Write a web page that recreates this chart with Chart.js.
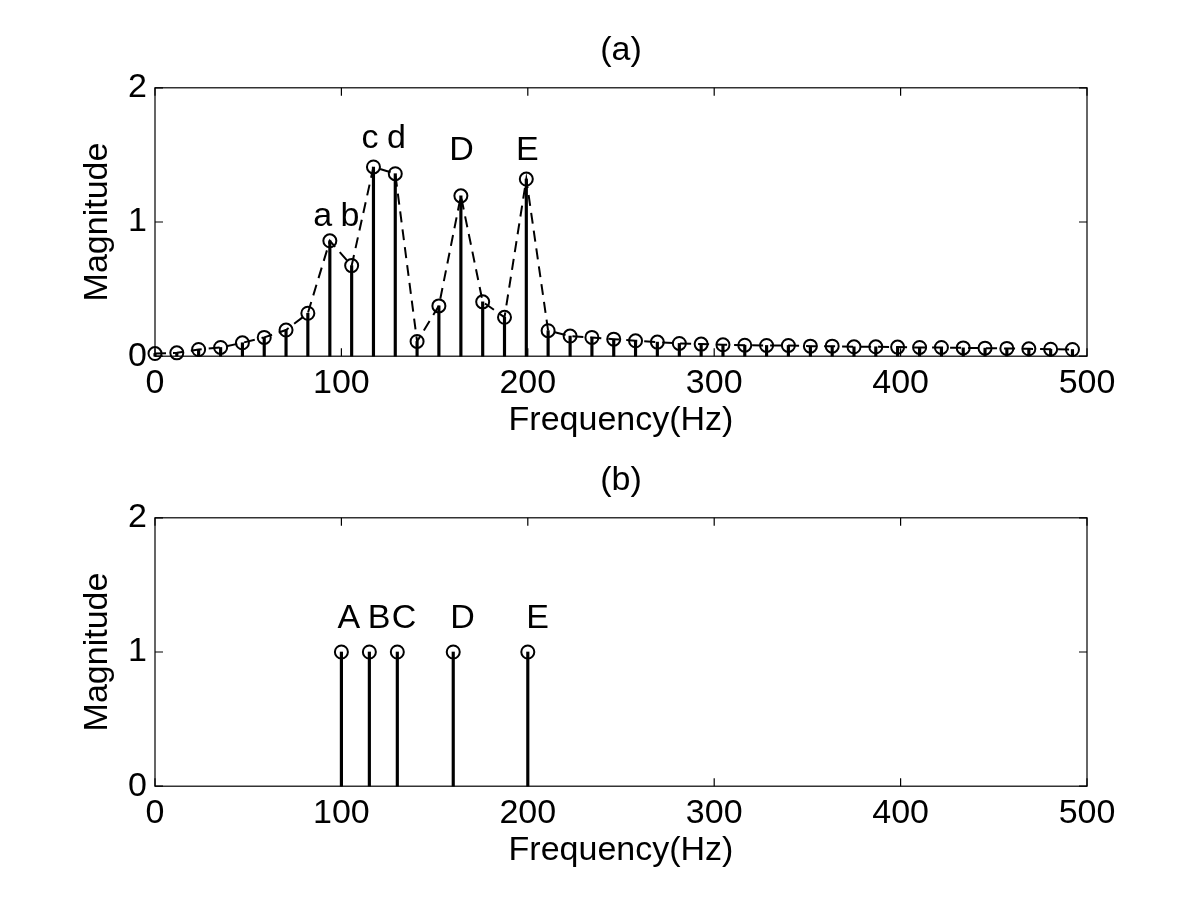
<!DOCTYPE html>
<html>
<head>
<meta charset="utf-8">
<script src="https://cdn.jsdelivr.net/npm/chart.js@4.4.1/dist/chart.umd.min.js"></script>
<style>
  body { margin: 0; background: #fff; }
  .box { position: absolute; left: 0; width: 1200px; }
</style>
</head>
<body>
<div class="box" style="top:0;height:453px"><canvas id="chartA"></canvas></div>
<div class="box" style="top:430px;height:476px"><canvas id="chartB"></canvas></div>
<script>
// (a) spectrum bins
const freqA = [0, 11.7, 23.4, 35.2, 46.9, 58.6, 70.3, 82.0, 93.8, 105.5, 117.2, 128.9, 140.6,
  152.3, 164.1, 175.8, 187.5, 199.2, 210.9, 222.7, 234.4, 246.1, 257.8, 269.5, 281.3, 293.0,
  304.7, 316.4, 328.1, 339.8, 351.6, 363.3, 375.0, 386.7, 398.4, 410.2, 421.9, 433.6, 445.3,
  457.0, 468.8, 480.5, 492.2];
const magA = [0.02, 0.025, 0.05, 0.065, 0.10, 0.14, 0.195, 0.32, 0.86, 0.675, 1.41, 1.36, 0.11,
  0.375, 1.195, 0.405, 0.29, 1.32, 0.19, 0.15, 0.14, 0.127, 0.115, 0.105, 0.095, 0.09, 0.085,
  0.082, 0.08, 0.08, 0.075, 0.075, 0.07, 0.07, 0.068, 0.065, 0.065, 0.062, 0.06, 0.058, 0.055,
  0.052, 0.05];
const textA = ['a', 'b', 'c', 'd', 'D', 'E'];
const textAx = [90, 104.6, 115.3, 129.6, 164.5, 199.8];
const textAy = [0.97, 0.97, 1.55, 1.55, 1.46, 1.46];

// (b) true components
const freqB = [100, 115, 130, 160, 200];
const magB = [1, 1, 1, 1, 1];
const textB = ['A', 'B', 'C', 'D', 'E'];
const textBx = [104, 120.2, 133.6, 165, 205.2];
const textBy = [1.18, 1.18, 1.18, 1.18, 1.18];

const xTicks = [0, 100, 200, 300, 400, 500];
const yTicks = [0, 1, 2];

const FONT = 'Liberation Sans';

// box around the axes, inward ticks and the peak letters
const frameTicks = {
  id: 'frameTicks',
  afterDatasetsDraw(chart, args, opts) {
    const { ctx, chartArea: a, scales: { x, y } } = chart;
    ctx.save();
    ctx.strokeStyle = '#000';
    ctx.lineWidth = 1.2;
    ctx.strokeRect(a.left, a.top, a.right - a.left, a.bottom - a.top);
    ctx.beginPath();
    x.ticks.forEach(t => {
      const px = x.getPixelForValue(t.value);
      ctx.moveTo(px, a.bottom); ctx.lineTo(px, a.bottom - 8);
      ctx.moveTo(px, a.top); ctx.lineTo(px, a.top + 8);
    });
    y.ticks.forEach(t => {
      const py = y.getPixelForValue(t.value);
      ctx.moveTo(a.left, py); ctx.lineTo(a.left + 8, py);
      ctx.moveTo(a.right, py); ctx.lineTo(a.right - 8, py);
    });
    ctx.stroke();
    ctx.fillStyle = '#000';
    ctx.font = '34px "' + FONT + '"';
    ctx.textAlign = 'center';
    ctx.textBaseline = 'alphabetic';
    opts.text.forEach((s, i) => {
      ctx.fillText(s, x.getPixelForValue(opts.xs[i]), y.getPixelForValue(opts.ys[i]));
    });
    ctx.restore();
  }
};

function makeOptions(title, padBottom, text, xs, ys) {
  return {
    responsive: true,
    maintainAspectRatio: false,
    animation: false,
    layout: { padding: { left: 0, right: 113, top: 0, bottom: padBottom } },
    plugins: {
      legend: { display: false },
      tooltip: { enabled: false },
      title: {
        display: true,
        text: title,
        fullSize: false,
        color: '#000',
        font: { family: FONT, size: 34, weight: 'normal', lineHeight: 1.2 },
        padding: { top: 30, bottom: 17 }
      },
      frameTicks: { text: text, xs: xs, ys: ys }
    },
    scales: {
      x: {
        type: 'linear',
        min: 0,
        max: 500,
        offset: false,
        afterBuildTicks: s => { s.ticks = xTicks.map(v => ({ value: v })); },
        grid: { display: false, drawTicks: false },
        border: { display: false },
        ticks: {
          color: '#000',
          padding: 10,
          maxRotation: 0,
          font: { family: FONT, size: 34, lineHeight: 1 }
        },
        title: {
          display: true,
          text: 'Frequency(Hz)',
          color: '#000',
          padding: { top: -10, bottom: 0 },
          font: { family: FONT, size: 34, lineHeight: 1.2 }
        }
      },
      y: {
        min: 0,
        max: 2,
        afterBuildTicks: s => { s.ticks = yTicks.map(v => ({ value: v })); },
        afterFit: s => { s.width = 155; },
        grid: { display: false, drawTicks: false },
        border: { display: false },
        ticks: {
          color: '#000',
          padding: 8,
          font: { family: FONT, size: 34, lineHeight: 1 }
        },
        title: {
          display: true,
          text: 'Magnitude',
          color: '#000',
          padding: { top: 77, bottom: 0 },
          font: { family: FONT, size: 34, lineHeight: 1.2 }
        }
      }
    }
  };
}

const ptsA = freqA.map((f, i) => ({ x: f, y: magA[i] }));
const ptsB = freqB.map((f, i) => ({ x: f, y: magB[i] }));

new Chart(document.getElementById('chartA'), {
  type: 'bar',
  data: {
    datasets: [{
      type: 'line',
      data: ptsA,
      borderColor: '#000',
      borderWidth: 2,
      borderDash: [11, 7],
      tension: 0,
      pointRadius: 6.5,
      pointBorderWidth: 2,
      pointBorderColor: '#000',
      pointBackgroundColor: 'rgba(0,0,0,0)',
      clip: false
    }, {
      type: 'bar',
      data: ptsA,
      backgroundColor: '#000',
      barThickness: 2.5,
      clip: false
    }]
  },
  options: makeOptions('(a)', 12, textA, textAx, textAy),
  plugins: [frameTicks]
});

new Chart(document.getElementById('chartB'), {
  type: 'bar',
  data: {
    datasets: [{
      type: 'line',
      data: ptsB,
      showLine: false,
      pointRadius: 6.5,
      pointBorderWidth: 2,
      pointBorderColor: '#000',
      pointBackgroundColor: 'rgba(0,0,0,0)',
      clip: false
    }, {
      type: 'bar',
      data: ptsB,
      backgroundColor: '#000',
      barThickness: 2.5,
      clip: false
    }]
  },
  options: makeOptions('(b)', 35, textB, textBx, textBy),
  plugins: [frameTicks]
});
</script>
</body>
</html>
